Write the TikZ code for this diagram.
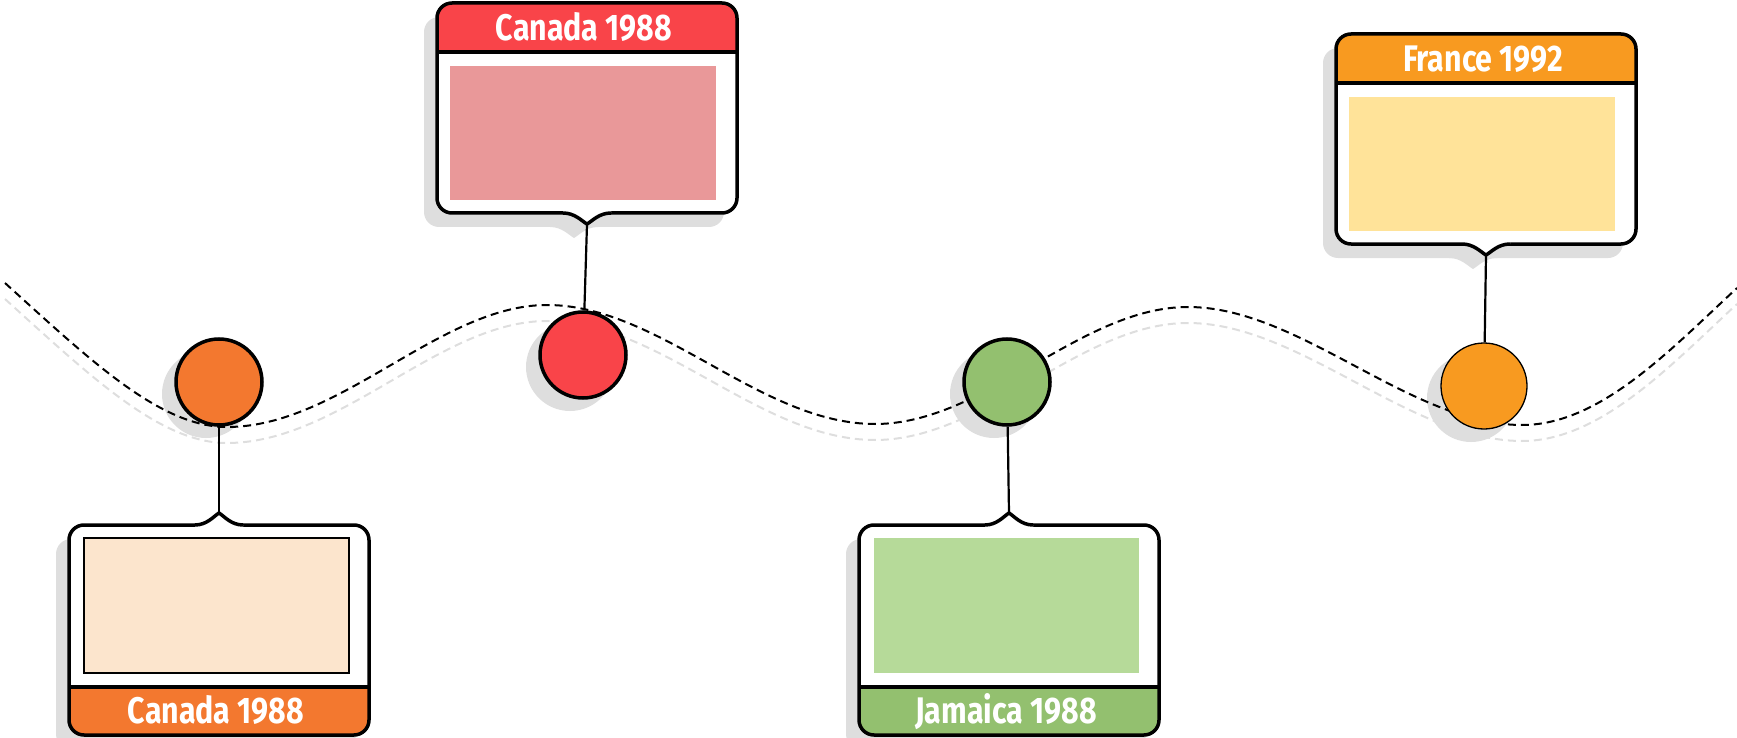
\documentclass[tikz,border=0pt]{standalone}
\usepackage{fontspec}
\setmainfont{Fira Sans}[FakeStretch=0.82]

\definecolor{cred}{HTML}{F94449}
\definecolor{cpink}{HTML}{E99899}
\definecolor{corange}{HTML}{F3782F}
\definecolor{cpeach}{HTML}{FCE5CD}
\definecolor{cgreen}{HTML}{93C06F}
\definecolor{clime}{HTML}{B6DA99}
\definecolor{cyellow}{HTML}{F89A20}
\definecolor{cpale}{HTML}{FFE399}

% brace-like notch on a callout edge: centre x, edge y, depth of the tip
\newcommand{\notch}[3]{(#1-24,#2) .. controls (#1-12,#2) and (#1-5,#2+0.75*#3) .. (#1,#2+#3) .. controls (#1+5,#2+0.75*#3) and (#1+12,#2) .. (#1+24,#2)}

\begin{document}
\begin{tikzpicture}[x=1pt, y=-1pt,
    shade/.style={fill=black!13},
    edge/.style={line width=3.5pt, line join=round},
    stem/.style={line width=2.2pt},
    wave/.style={line width=2pt, dash pattern=on 8pt off 5pt},
    dot/.style={circle, draw, inner sep=0pt, minimum size=86pt},
    tag/.style={anchor=base, text=white, font=\fontsize{37}{40}\selectfont\bfseries}]
    \useasboundingbox (0,0) rectangle (1737,738);

    % Shadows of the dots
    \foreach \x/\y in {219/382, 583/355, 1007/382, 1484/386}
        \fill[shade] (\x-13,\y+12) circle (44pt);

    % Timeline (grey copy below the black one)
    \foreach \dy/\col in {16/black!13, 0/black}
        \draw[wave, draw=\col, shift={(0,\dy)}] (5,283) .. controls (90,360) and (160,427) .. (227,427)
            .. controls (340,427) and (440,305) .. (547,305)
            .. controls (660,305) and (760,424) .. (875,424)
            .. controls (985,424) and (1080,307) .. (1188,307)
            .. controls (1300,307) and (1410,425) .. (1522,425)
            .. controls (1600,425) and (1670,350) .. (1737,288);

    % Dots on the line
    \foreach \n/\x/\y/\col/\lw in {1/219/382/corange/3.5, 2/583/355/cred/3.5, 3/1007/382/cgreen/3.5, 4/1484/386/cyellow/1.3}
        \node[dot, fill=\col, line width=\lw pt] (dot\n) at (\x,\y) {};

    % Callouts above the line
    \foreach \n/\x/\t/\col/\pale/\txt in {2/587/3/cred/cpink/Canada 1988, 4/1486/34/cyellow/cpale/France 1992}{
        \fill[shade, rounded corners=15pt] (\x-163,\t+14) rectangle (\x+137,\t+224);
        \fill[shade] (\x-37,\t+222) -- \notch{\x-13}{\t+224}{11} -- cycle;
        \fill[white, rounded corners=15pt] (\x-150,\t) rectangle (\x+150,\t+210);
        \begin{scope}
            \clip (\x-150,\t) rectangle (\x+150,\t+49);
            \fill[\col, rounded corners=15pt] (\x-150,\t) rectangle (\x+150,\t+210);
        \end{scope}
        \fill[\pale] (\x-137,\t+63) rectangle (\x+129,\t+197);
        \draw[edge] (\x-150,\t+49) -- (\x+150,\t+49);
        \draw[edge, rounded corners=15pt] (\x-150,\t) rectangle (\x+150,\t+210);
        \fill[white] (\x-24,\t+207) -- \notch{\x}{\t+210}{11} -- (\x+24,\t+207) -- cycle;
        \draw[edge] \notch{\x}{\t+210}{11};
        \coordinate (tip\n) at (\x,\t+221);
        \node[tag] (tag\n) at (\x-3,\t+38) {\txt};
    }

    % Callouts below the line
    \foreach \n/\x/\col/\pale/\rim/\txt in {1/219/corange/cpeach/black/Canada 1988, 3/1009/cgreen/clime/none/Jamaica 1988}{
        \fill[shade, rounded corners=15pt] (\x-163,539) rectangle (\x+137,749);
        \fill[white, rounded corners=15pt] (\x-150,525) rectangle (\x+150,735);
        \begin{scope}
            \clip (\x-150,687) rectangle (\x+150,735);
            \fill[\col, rounded corners=15pt] (\x-150,525) rectangle (\x+150,735);
        \end{scope}
        \filldraw[fill=\pale, draw=\rim, line width=2pt] (\x-135,538) rectangle (\x+130,673);
        \draw[edge] (\x-150,687) -- (\x+150,687);
        \draw[edge, rounded corners=15pt] (\x-150,525) rectangle (\x+150,735);
        \fill[white] (\x-24,528) -- \notch{\x}{525}{-12} -- (\x+24,528) -- cycle;
        \draw[edge] \notch{\x}{525}{-12};
        \coordinate (tip\n) at (\x,513);
        \node[tag] (tag\n) at (\x-3,723) {\txt};
    }

    % Stems
    \foreach \n in {1,...,4}
        \draw[stem] (dot\n) -- (tip\n);
\end{tikzpicture}
\end{document}
